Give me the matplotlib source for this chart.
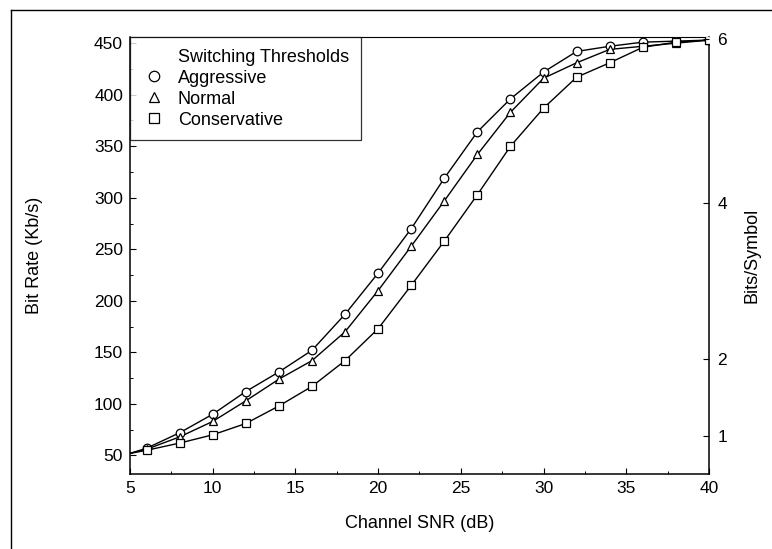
import matplotlib
matplotlib.use("Agg")
import matplotlib.pyplot as plt
from matplotlib.lines import Line2D
import numpy as np

plt.rcParams['font.family'] = ['Liberation Sans', 'DejaVu Sans']

# ---- data ----
snr = [6, 8, 10, 12, 14, 16, 18, 20, 22, 24, 26, 28, 30, 32, 34, 36, 38, 40]
aggressive = [57, 72, 90, 112, 131, 152, 187, 227, 270, 319, 364, 396, 422, 442, 447, 451, 452, 453]
normal = [56, 68, 83, 103, 124, 142, 170, 210, 253, 297, 342, 383, 416, 431, 444, 447, 450, 453]
conservative = [55, 62, 70, 81, 98, 117, 142, 173, 215, 258, 303, 350, 387, 417, 431, 446, 451, 453]
start_snr = 5
start_rate = 52
legend_title = 'Switching Thresholds'
series_names = ['Aggressive', 'Normal', 'Conservative']
markers = ['o', '^', 's']

x_ticks = [5, 10, 15, 20, 25, 30, 35, 40]
y_ticks = [50, 100, 150, 200, 250, 300, 350, 400, 450]
right_tick_pos = [69, 144, 295, 454]
right_tick_labels = ['1', '2', '4', '6']

fig = plt.figure(figsize=(7.72, 5.49), dpi=100)
ax = fig.add_axes([130/772, 1-474/549, (709-130)/772, (474-37)/549])

for vals, name, m in zip([aggressive, normal, conservative], series_names, markers):
    ax.plot([start_snr] + snr, [start_rate] + vals, color='black', lw=1.0, zorder=2)
    ax.plot(snr, vals, linestyle='none', marker=m, markersize=6.2,
            markerfacecolor='white', markeredgecolor='black', markeredgewidth=0.9, zorder=3)

ax.set_xlim(5, 40)
ax.set_ylim(32, 456)
ax.set_xticks(x_ticks)
ax.set_xticks(np.arange(7.5, 40, 5), minor=True)
ax.set_yticks(y_ticks)
ax.set_yticks(np.arange(75, 450, 50), minor=True)
ax.tick_params(axis='both', which='major', direction='in', length=4, width=0.8,
               labelsize=12.5, pad=5, top=False, right=False)
ax.tick_params(axis='both', which='minor', direction='in', length=2.5, width=0.7,
               top=False, right=False)
for s in ax.spines.values():
    s.set_linewidth(1.1)
ax.spines['top'].set_linewidth(0.8)

ax.set_xlabel('Channel SNR (dB)', fontsize=13, labelpad=14)
ax.set_ylabel('Bit Rate (Kb/s)', fontsize=13, labelpad=37)

ax2 = ax.twinx()
ax2.set_ylim(ax.get_ylim())
ax2.set_yticks(right_tick_pos)
ax2.set_yticklabels(right_tick_labels)
ax2.tick_params(axis='y', direction='in', length=4, width=0.8, labelsize=12.5, pad=6)
ax2.set_ylabel('Bits/Symbol', fontsize=13, labelpad=12)
for s in ax2.spines.values():
    s.set_visible(False)

handles = [Line2D([], [], linestyle='none', marker='')] + \
          [Line2D([], [], linestyle='none', marker=m, markersize=7.5,
                  markerfacecolor='white', markeredgecolor='black', markeredgewidth=0.9)
           for m in markers]
leg = ax.legend(handles, [legend_title] + series_names, loc='upper left',
                bbox_to_anchor=(0, 1), fontsize=13, frameon=True,
                fancybox=False, edgecolor='black', borderaxespad=0, handlelength=1.4,
                handletextpad=0.6, labelspacing=0.22, borderpad=0.65)
leg.get_frame().set_linewidth(0.9)

# outer frame lines (top and left)
fig.add_artist(Line2D([11/772, 11/772], [0, 1-9.5/549], transform=fig.transFigure,
                      color='black', lw=1.0))
fig.add_artist(Line2D([11/772, 1], [1-9.5/549, 1-9.5/549], transform=fig.transFigure,
                      color='black', lw=1.0))

fig.savefig('out.png', dpi=100)
